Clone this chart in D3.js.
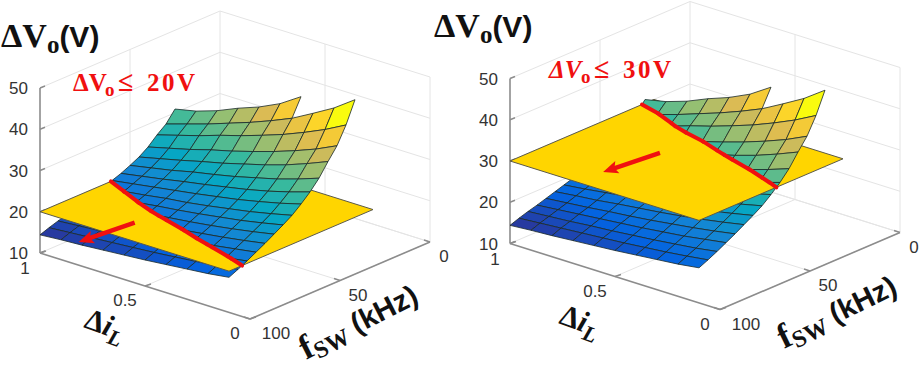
<!DOCTYPE html>
<html>
<head>
<meta charset="utf-8">
<script src="https://cdn.jsdelivr.net/npm/d3@7"></script>
<style>
    html, body { margin: 0; padding: 0; background: #fff; }
    svg { display: block; }
</style>
</head>
<body>
<div class="canvas"></div>
<script>
// grid of the surface
const fswValues = [25, 30, 35, 40, 45, 50, 55, 60, 65, 70, 75, 80, 85, 90, 95, 100];
const diValues = [0.1, 0.2, 0.3, 0.4, 0.5, 0.6, 0.7, 0.8, 0.9, 1];

// dVo, one row per fsw, one column per di
const dvoRows = [
    [null, null, null, 43.5, 40.2, 37.8, 35.9, 33.7, 32.0, 30.9],
    [48.5, 44.9, 42.0, 39.2, 37.0, 35.0, 33.2, 31.4, 29.8, 28.2],
    [43.3, 40.6, 38.3, 36.2, 34.4, 32.7, 31.2, 29.5, 28.0, 26.5],
    [39.2, 36.8, 34.8, 33.0, 31.4, 29.9, 28.6, 27.1, 25.8, 24.5],
    [36.3, 34.2, 32.3, 30.7, 29.3, 27.9, 26.7, 25.4, 24.2, 23.0],
    [33.2, 31.4, 29.8, 28.5, 27.2, 26.1, 25.1, 23.9, 22.9, 21.9],
    [30.8, 29.2, 27.8, 26.6, 25.6, 24.6, 23.7, 22.7, 21.8, 20.9],
    [28.8, 27.4, 26.2, 25.1, 24.2, 23.3, 22.5, 21.7, 20.9, 20.1],
    [27.0, 25.8, 24.7, 23.8, 22.9, 22.1, 21.5, 20.7, 20.0, 19.3],
    [25.6, 24.5, 23.5, 22.7, 21.9, 21.2, 20.6, 19.9, 19.2, 18.6],
    [24.3, 23.3, 22.4, 21.6, 20.9, 20.3, 19.7, 19.0, 18.5, 17.9],
    [23.0, 22.1, 21.3, 20.6, 19.9, 19.3, 18.8, 18.2, 17.7, 17.2],
    [21.8, 21.0, 20.2, 19.6, 19.0, 18.5, 18.0, 17.5, 17.0, 16.5],
    [20.6, 19.8, 19.2, 18.6, 18.1, 17.6, 17.2, 16.7, 16.3, 15.9],
    [19.5, 18.8, 18.2, 17.7, 17.2, 16.8, 16.4, 16.0, 15.6, 15.2],
    [18.5, 17.8, 17.3, 16.8, 16.3, 15.9, 15.5, 15.1, 14.8, 14.4]
];

// limit planes and the arrows lying on them, [fsw, di]
const planeLevels = [20, 30];
const planeFsw = [20, 100];
const planeDi = [0.1, 1];
const arrowStarts = [[85.9, 0.67], [58.7, 0.64]];
const arrowEnds = [[113.5, 0.70], [86.3, 0.674]];

// tick labels
const zTicks = [10, 20, 30, 40, 50];
const fswTicks = [0, 50, 100];
const diTicks = [0, 0.5, 1];
const limitLabels = ['20V', '30V'];

const parula = ['#352a87', '#0363e1', '#1485d4', '#06a7c4', '#38b99e', '#92bf73', '#d9ba56', '#fcce2e', '#f9fb0e'];

const svg = d3.select('.canvas')
    .append('svg')
    .attr('width', 919)
    .attr('height', 367);

// the axes box is an affine projection, one scale per data axis
const xFromFsw = d3.scaleLinear().domain([0, 100]).range([0, -180]);
const yFromFsw = d3.scaleLinear().domain([0, 100]).range([0, 77]);
const xFromDi = d3.scaleLinear().domain([0, 1]).range([430, 220]);
const yFromDi = d3.scaleLinear().domain([0, 1]).range([242, 176]);
const yFromZ = d3.scaleLinear().domain([10, 50]).range([0, -165]);

const project = (fsw, di, z) => [
    xFromFsw(fsw) + xFromDi(di),
    yFromFsw(fsw) + yFromDi(di) + yFromZ(z)
];

const allZ = dvoRows.flat().filter(d => d !== null);
const color = d3.scaleLinear()
    .domain(d3.range(parula.length).map(i => d3.min(allZ) + i / (parula.length - 1) * (d3.max(allZ) - d3.min(allZ))))
    .range(parula);

const toPath = pts => 'M' + pts.map(p => project(p[0], p[1], p[2]).map(v => v.toFixed(2)).join(',')).join('L') + 'Z';

// keeps the part of a cell on one side of the plane
function clipCell(cell, level, keepAbove) {
    const out = [];
    cell.forEach((a, i) => {
        const b = cell[(i + 1) % cell.length];
        const inA = (a[2] >= level) === keepAbove;
        const inB = (b[2] >= level) === keepAbove;
        if (inA) out.push(a);
        if (inA !== inB) out.push(crossing(a, b, level));
    });
    return out;
}

function crossing(a, b, level) {
    const t = (level - a[2]) / (b[2] - a[2]);
    return [a[0] + (b[0] - a[0]) * t, a[1] + (b[1] - a[1]) * t, level];
}

function drawPanel(panel, level, index) {
    const gridColor = '#e4e4e4';
    const axisColor = '#8c8c8c';
    const line = (a, b, stroke, width) => panel.append('line')
        .attr('x1', a[0]).attr('y1', a[1])
        .attr('x2', b[0]).attr('y2', b[1])
        .attr('stroke', stroke)
        .attr('stroke-width', width);

    // walls and floor
    zTicks.forEach(z => {
        line(project(100, 1, z), project(0, 1, z), gridColor, 1);
        line(project(0, 1, z), project(0, 0, z), gridColor, 1);
    });
    fswTicks.slice(0, 2).forEach(f => {
        line(project(f, 1, 10), project(f, 1, 50), gridColor, 1);
        line(project(f, 1, 10), project(f, 0, 10), gridColor, 1);
    });
    diTicks.slice(0, 2).forEach(d => {
        line(project(0, d, 10), project(0, d, 50), gridColor, 1);
        line(project(0, d, 10), project(100, d, 10), gridColor, 1);
    });

    // axes
    line(project(100, 1, 10), project(100, 1, 50), axisColor, 1.6);
    line(project(100, 1, 10), project(100, 0, 10), axisColor, 1.6);
    line(project(100, 0, 10), project(0, 0, 10), axisColor, 1.6);
    zTicks.forEach(z => {
        const p = project(100, 1, z);
        line(p, [p[0] + 5, p[1] - 2], axisColor, 1.4);
        panel.append('text').attr('class', 'tick')
            .attr('x', p[0] - 12).attr('y', p[1] + 6)
            .attr('text-anchor', 'end')
            .text(z);
    });
    fswTicks.forEach(f => {
        const p = project(f, 0, 10);
        line(p, [p[0] - 6, p[1] - 2], axisColor, 1.4);
        panel.append('text').attr('class', 'tick')
            .attr('x', p[0] + (f === 0 ? 14 : f === 50 ? 18 : 26)).attr('y', p[1] + 20)
            .attr('text-anchor', 'middle')
            .text(f);
    });
    diTicks.forEach(d => {
        const p = project(100, d, 10);
        line(p, [p[0] + 6, p[1] - 2], axisColor, 1.4);
        panel.append('text').attr('class', 'tick')
            .attr('x', p[0] + (d === 0.5 ? -20 : -15)).attr('y', p[1] + (d === 1 ? 21 : 20))
            .attr('text-anchor', 'middle')
            .text(d);
    });

    // cells, far ones first
    const cells = [];
    for (let i = 0; i < fswValues.length - 1; i++) {
        for (let j = diValues.length - 2; j >= 0; j--) {
            const zs = [dvoRows[i][j], dvoRows[i + 1][j], dvoRows[i + 1][j + 1], dvoRows[i][j + 1]];
            if (zs.includes(null)) continue;
            cells.push([
                [fswValues[i], diValues[j], zs[0]],
                [fswValues[i + 1], diValues[j], zs[1]],
                [fswValues[i + 1], diValues[j + 1], zs[2]],
                [fswValues[i], diValues[j + 1], zs[3]]
            ]);
        }
    }

    const drawCells = keepAbove => panel.append('g')
        .selectAll('path')
        .data(cells.map(c => ({ z: d3.max(c, p => p[2]), pts: clipCell(c, level, keepAbove) })).filter(c => c.pts.length > 2))
        .enter()
        .append('path')
        .attr('d', c => toPath(c.pts))
        .attr('fill', c => color(c.z))
        .attr('stroke', '#1c2a2a')
        .attr('stroke-opacity', 0.8)
        .attr('stroke-width', 1);

    drawCells(false);

    panel.append('path')
        .attr('d', toPath([
            [planeFsw[0], planeDi[0], level],
            [planeFsw[1], planeDi[0], level],
            [planeFsw[1], planeDi[1], level],
            [planeFsw[0], planeDi[1], level]
        ]))
        .attr('fill', '#ffd500')
        .attr('stroke', '#5c5a48')
        .attr('stroke-width', 1);

    drawCells(true);

    // red line where the surface meets the plane
    cells.forEach(c => {
        const cuts = [];
        c.forEach((a, i) => {
            const b = c[(i + 1) % 4];
            if ((a[2] >= level) !== (b[2] >= level)) cuts.push(crossing(a, b, level));
        });
        if (cuts.length === 2) {
            line(project(...cuts[0]), project(...cuts[1]), '#f01010', 4)
                .attr('stroke-linecap', 'round');
        }
    });

    // arrow on the plane
    const from = project(arrowStarts[index][0], arrowStarts[index][1], level);
    const to = project(arrowEnds[index][0], arrowEnds[index][1], level);
    const angle = Math.atan2(to[1] - from[1], to[0] - from[0]) * 180 / Math.PI;
    const len = Math.hypot(to[0] - from[0], to[1] - from[1]);
    const arrow = panel.append('g')
        .attr('transform', `translate(${from[0]},${from[1]}) rotate(${angle})`);
    arrow.append('rect')
        .attr('x', 0).attr('y', -2.2)
        .attr('width', len - 10).attr('height', 4.4)
        .attr('fill', '#f01010');
    arrow.append('path')
        .attr('d', `M${len},0L${len - 15},-6.5L${len - 12},0L${len - 15},6.5Z`)
        .attr('fill', '#f01010');
}

const serif = "'Liberation Serif', 'DejaVu Serif', serif";
const sans = "'Liberation Sans', Arial, sans-serif";

svg.append('style').text(`.tick { font-family: ${sans}; font-size: 17px; fill: #333; }`);

const panels = [
    svg.append('g'),
    svg.append('g').attr('transform', 'translate(470,-9.5)')
];
panels.forEach((p, i) => drawPanel(p, planeLevels[i], i));

// hand placed titles
function titleDv(x, y) {
    const t = svg.append('text')
        .attr('x', x).attr('y', y)
        .attr('font-weight', 700)
        .attr('fill', '#111');
    t.append('tspan').attr('font-family', serif).attr('font-size', 34).text('ΔV');
    t.append('tspan').attr('font-family', serif).attr('font-size', 25).attr('dy', 6).text('o');
    t.append('tspan').attr('font-family', sans).attr('font-size', 30).attr('dy', -6).text('(V)');
}
titleDv(1, 47);
titleDv(434, 37);

function limitText(x, y, value, italic) {
    const t = svg.append('text')
        .attr('x', x).attr('y', y)
        .attr('font-family', serif)
        .attr('font-weight', 700)
        .attr('fill', '#f01010')
        .attr('font-size', 25);
    t.append('tspan').attr('font-style', italic ? 'italic' : 'normal').text('ΔV');
    t.append('tspan').attr('font-size', 19).attr('x', x + 32).attr('dy', 5).text('o');
    t.append('tspan').attr('font-size', 28).attr('x', x + 45).attr('dy', -5).text('≤');
    t.append('tspan').attr('x', x + 74).attr('letter-spacing', 2.5).text(value);
}
limitText(73, 91, limitLabels[0], false);
limitText(549, 78, limitLabels[1], true);

function diLabel(x, y) {
    const t = svg.append('text')
        .attr('transform', `translate(${x},${y}) rotate(20)`)
        .attr('font-family', serif)
        .attr('font-weight', 700)
        .attr('fill', '#111');
    t.append('tspan').attr('font-size', 30).text('Δ');
    t.append('tspan').attr('font-size', 30).attr('font-style', 'italic').text('i');
    t.append('tspan').attr('font-size', 22).attr('font-style', 'italic').attr('dy', 7).text('L');
}
diLabel(83, 327);
diLabel(558, 323);

function fswLabel(x, y, angle) {
    const t = svg.append('text')
        .attr('transform', `translate(${x},${y}) rotate(${angle})`)
        .attr('font-weight', 700)
        .attr('fill', '#111');
    t.append('tspan').attr('font-family', serif).attr('font-size', 35).text('f');
    t.append('tspan').attr('font-family', serif).attr('font-size', 24).attr('dy', 5).text('SW');
    t.append('tspan').attr('font-family', sans).attr('font-size', 29).attr('dy', -5).text(' (kHz)');
}
fswLabel(306, 360, -27);
fswLabel(784, 349, -26);
</script>
</body>
</html>
